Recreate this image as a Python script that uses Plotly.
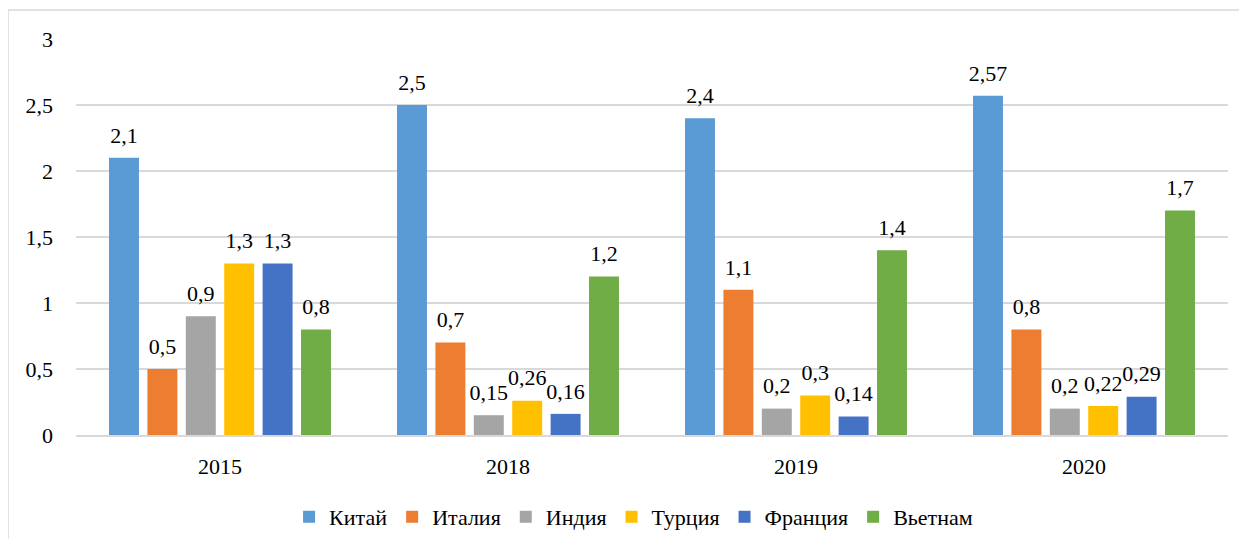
import plotly.graph_objects as go

categories = ["2015", "2018", "2019", "2020"]
series_names = ["Китай", "Италия", "Индия", "Турция", "Франция", "Вьетнам"]
china = [2.1, 2.5, 2.4, 2.57]
italy = [0.5, 0.7, 1.1, 0.8]
india = [0.9, 0.15, 0.2, 0.2]
turkey = [1.3, 0.26, 0.3, 0.22]
france = [1.3, 0.16, 0.14, 0.29]
vietnam = [0.8, 1.2, 1.4, 1.7]
colors = ["#5B9BD5", "#ED7D31", "#A5A5A5", "#FFC000", "#4472C4", "#70AD47"]
y_ticks = [0, 0.5, 1, 1.5, 2, 2.5, 3]
y_tick_labels = ["0", "0,5", "1", "1,5", "2", "2,5", "3"]

values = [china, italy, india, turkey, france, vietnam]

FONT = "Liberation Serif"
FS = 22

fig = go.Figure()
for name, vals, col in zip(series_names, values, colors):
    fig.add_trace(go.Bar(
        x=categories, y=vals, name=name, marker_color=col,
        marker_line_width=0, hoverinfo="x+y+name",
    ))
for name, vals in zip(series_names, values):
    fig.add_trace(go.Scatter(
        x=categories, y=vals, name=name, showlegend=False,
        mode="markers+text", marker=dict(size=14, opacity=0),
        text=[("%g" % v).replace(".", ",") for v in vals],
        textposition="top center", cliponaxis=False, hoverinfo="skip",
        textfont=dict(family=FONT, size=FS, color="#000000"),
    ))

fig.update_layout(
    width=1231, height=531,
    barmode="group", bargap=0.2, bargroupgap=0.22,
    scattermode="group", scattergap=0.2,
    plot_bgcolor="white", paper_bgcolor="white",
    margin=dict(l=68, r=11, t=31, b=104, autoexpand=False),
    font=dict(family=FONT, size=FS, color="#000000"),
    legend=dict(orientation="h", x=0.484, xanchor="center", y=-0.207, yanchor="middle",
                font=dict(family=FONT, size=FS), itemwidth=30, tracegroupgap=0),
    shapes=[dict(type="rect", xref="paper", yref="paper",
                 x0=-68/1152, x1=1.05, y0=-0.4, y1=1 + 29/396,
                 line=dict(color="#D9D9D9", width=1.5), fillcolor="rgba(0,0,0,0)", layer="below")],
)
fig.update_xaxes(type="category", showline=True, linecolor="#D9D9D9", linewidth=1.5, automargin=False,
                 ticks="outside", ticklen=11, tickcolor="rgba(0,0,0,0)",
                 tickfont=dict(family=FONT, size=FS))
fig.update_yaxes(range=[0, 3], tickvals=y_ticks, ticktext=y_tick_labels, automargin=False,
                 showgrid=True, gridcolor="#D9D9D9", gridwidth=1.5,
                 zeroline=False, ticklabelstandoff=22,
                 tickfont=dict(family=FONT, size=FS))

fig.write_html("out.html")
